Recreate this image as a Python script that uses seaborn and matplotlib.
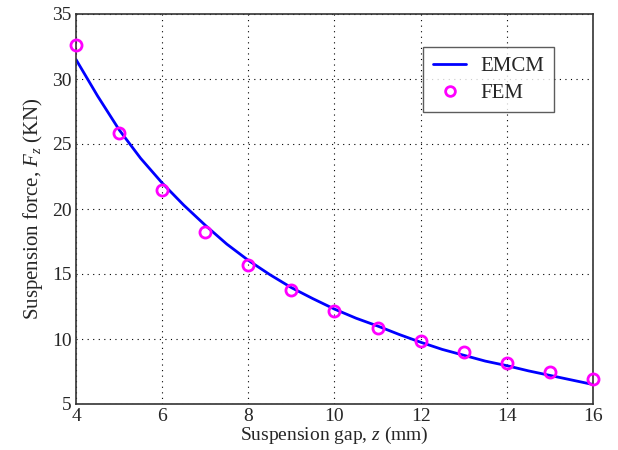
import matplotlib
matplotlib.use("Agg")
import matplotlib.pyplot as plt
import seaborn as sns
import pandas as pd

# EMCM curve
emcm_x = [4, 4.5, 5, 5.5, 6, 6.5, 7, 7.5, 8, 8.5, 9, 9.5, 10, 10.5, 11, 11.5,
          12, 12.5, 13, 13.5, 14, 14.5, 15, 15.5, 16]
emcm_y = [31.5, 28.7, 26.1, 23.9, 22.0, 20.3, 18.75, 17.3, 16.05, 14.95, 13.95, 13.1,
          12.3, 11.6, 11.0, 10.35, 9.75, 9.2, 8.75, 8.3, 7.95, 7.55, 7.2, 6.85, 6.5]

# FEM points
fem_x = [4, 5, 6, 7, 8, 9, 10, 11, 12, 13, 14, 15, 16]
fem_y = [32.6, 25.87, 21.44, 18.2, 15.7, 13.75, 12.15, 10.87, 9.82, 8.97, 8.18, 7.5, 6.92]

x_ticks = [4, 6, 8, 10, 12, 14, 16]
y_ticks = [5, 10, 15, 20, 25, 30, 35]

sns.set_style("white")
plt.rcParams['font.family'] = ['Liberation Serif', 'DejaVu Serif']
plt.rcParams['mathtext.fontset'] = 'custom'
plt.rcParams['mathtext.it'] = 'Liberation Serif:italic'
plt.rcParams['mathtext.rm'] = 'Liberation Serif'

fig = plt.figure(figsize=(6.18, 4.5), dpi=100)
ax = fig.add_axes([76/618, 1-404/450, (593-76)/618, (404-14)/450])

df_line = pd.DataFrame({"x": emcm_x, "y": emcm_y})
df_pts = pd.DataFrame({"x": fem_x, "y": fem_y})

sns.lineplot(data=df_line, x="x", y="y", ax=ax, color="#0000ff", linewidth=2,
             label="EMCM")
ax.plot(df_pts["x"], df_pts["y"], linestyle="none", marker="o", markersize=8,
        markerfacecolor="none", markeredgecolor="#ff00ff", markeredgewidth=2,
        label="FEM", clip_on=False, zorder=5)

ax.set_xlim(4, 16)
ax.set_ylim(5, 35)
ax.set_xticks(x_ticks)
ax.set_yticks(y_ticks)
ax.grid(True, color="black", linestyle=(0, (1, 4)), linewidth=0.8)
ax.tick_params(axis="both", length=0, labelsize=14, pad=3)
for s in ax.spines.values():
    s.set_color("#333333")
    s.set_linewidth(1.2)

ax.set_xlabel("Suspension gap, $z$ (mm)", fontsize=14, labelpad=0)
ax.set_ylabel("Suspension force, $F_z$ (KN)", fontsize=15, labelpad=5)

leg = ax.legend(loc="upper right", bbox_to_anchor=((554-76)/517, (404-47)/390),
                borderaxespad=0, fontsize=15, frameon=True, fancybox=False,
                edgecolor="#333333", borderpad=0.45, handlelength=1.6,
                handletextpad=0.7, labelspacing=0.35)
leg.get_frame().set_linewidth(1.0)
leg.legend_handles[1].set_markersize(7)

fig.savefig("out.png", dpi=100)
